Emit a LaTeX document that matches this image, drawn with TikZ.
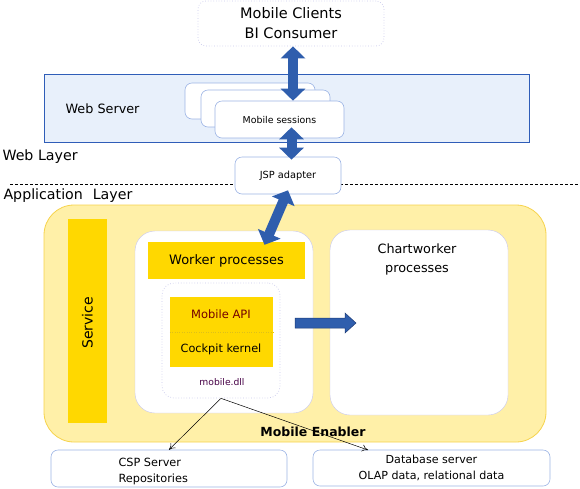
\documentclass[tikz,border=0pt]{standalone}
\usepackage{fontspec}
\setmainfont{DejaVu Sans}
\usetikzlibrary{arrows.meta,positioning}
\definecolor{WebFill}{HTML}{E8F0FB}
\definecolor{WebLine}{HTML}{2F5DB8}
\definecolor{AppFill}{HTML}{FFF0A8}
\definecolor{AppLine}{HTML}{F6D34C}
\definecolor{Gold}{HTML}{FFD800}
\definecolor{CardLine}{HTML}{9DB5E5}
\definecolor{Dots}{HTML}{C8C8EC}
\definecolor{Pipe}{HTML}{2F5EAD}
\definecolor{PipeEdge}{HTML}{1C3A75}
\tikzset{
  card/.style={draw=CardLine,fill=white,rounded corners=7pt,line width=.6pt},
  dotcard/.style={draw=Dots,fill=white,dotted,line width=.7pt},
  goldbar/.style={fill=Gold,draw=none},
  pipe/.style={draw=Pipe,line width=10pt,
    {Triangle[width=24pt,length=12pt]}-{Triangle[width=24pt,length=12pt]}},
  wire/.style={black,line width=.5pt,-{To[length=6pt,width=7pt]}},
}
% named box covering (x1,y1)--(x2,y2)
\newcommand{\panel}[7]{%
  \node[#6,inner sep=0pt,minimum width={#4-#2},minimum height={#5-#3},align=center]
    (#1) at ({(#2+#4)/2},{(#3+#5)/2}) {#7};
}
\newcommand{\fsz}[2]{\fontsize{#1}{#2}\selectfont}
\begin{document}
\begin{tikzpicture}[x=1pt,y=-1pt,font=\fsz{11}{14}]
\path[use as bounding box] (0,0) rectangle (580,488);
% clients
\panel{clients}{198}{1}{384}{46}{dotcard,rounded corners=8pt,font=\fsz{14.5}{20}}{Mobile Clients\\BI Consumer}
% web layer
\panel{web}{44}{74}{529}{142}{draw=WebLine,fill=WebFill,line width=.8pt}{}
\node[anchor=west,font=\fsz{12.8}{14}] (weblbl) at (62,109) {Web Server};
\panel{sess1}{185}{83}{315}{119}{card}{}
\panel{sess2}{201}{90}{330}{127}{card}{}
\panel{sess3}{215}{101}{344}{138}{card,font=\fsz{9.4}{11}}{Mobile sessions}
\node[anchor=west,font=\fsz{14.2}{16}] (weblayer) at (-1,157) {Web Layer};
\draw[black,dash pattern=on 3pt off 2pt,line width=.5pt] (10,184) -- (580,184);
\panel{jsp}{235}{157}{341}{194}{card,font=\fsz{9.8}{11}}{JSP adapter}
\node[anchor=west,font=\fsz{14.2}{16}] (applayer) at (0,196) {Application\hspace{.7em}Layer};
% application layer
\panel{app}{44}{205}{546}{442}{draw=AppLine,fill=AppFill,line width=.8pt,rounded corners=30pt}{}
\panel{service}{68}{219}{107}{423}{goldbar}{}
\node[rotate=90,font=\fsz{14}{16}] (servicelbl) at ([yshift=-2pt]service.center) {Service};
\panel{worker}{135}{231}{313}{413}{fill=white,draw=Dots,line width=.4pt,rounded corners=20pt}{}
\panel{workbar}{148}{242}{305}{279}{goldbar,font=\fsz{13}{15}}{Worker processes}
\panel{dll}{162}{283}{280}{398}{dotcard,rounded corners=12pt}{}
\panel{kernel}{170}{297}{273}{367}{goldbar}{}
\draw[Gold!85!black!90,dotted,line width=.4pt] (kernel.west) -- (kernel.east);
\node[text=red!45!black,font=\fsz{11.5}{13}] (apilbl) at (221,314) {Mobile API};
\node[font=\fsz{11.3}{13}] (cockpitlbl) at (221,349) {Cockpit kernel};
\node[text=violet!55!black,font=\fsz{9.2}{11}] (dlllbl) at (222,382) {mobile.dll};
\panel{chart}{330}{230}{508}{415}{fill=white,draw=Dots,line width=.4pt,rounded corners=20pt}{}
\node[anchor=north,align=center,font=\fsz{12.8}{19}] (chartlbl) at (417,240) {Chartworker\\processes};
\node[font=\bfseries\fsz{12.5}{14}] (enabler) at (313,432) {Mobile Enabler};
% data sources
\panel{csp}{51}{450}{287}{487}{card}{}
\node[anchor=west,align=left,font=\fsz{11.3}{16}] (csplbl) at (115,471) {CSP Server\\Repositories};
\panel{db}{313}{450}{550}{486}{card,font=\fsz{11.1}{16}}{Database server\\OLAP data, relational data}
% pipes
\draw[pipe] ([xshift=2pt]clients.south) -- ([xshift=2pt]clients.south |- sess3.north);
\draw[pipe] ([xshift=12pt,yshift=11pt]sess3.south) -- ([xshift=12pt,yshift=-3pt]sess3.south |- jsp.north);
\draw[pipe] ([yshift=4pt]jsp.south) -- ([xshift=38pt,yshift=-3pt]workbar.north);
\fill[Pipe,draw=PipeEdge,line width=.5pt] (295,318) -- (345,318) -- (345,313) -- (356,323)
  -- (345,333) -- (345,328) -- (295,328) -- cycle;
% links from mobile.dll
\coordinate (dbtop) at (368,450);
\draw[wire] (dll.south) -- (csp.north);
\draw[wire] (dll.south) -- (dbtop);
\end{tikzpicture}
\end{document}
